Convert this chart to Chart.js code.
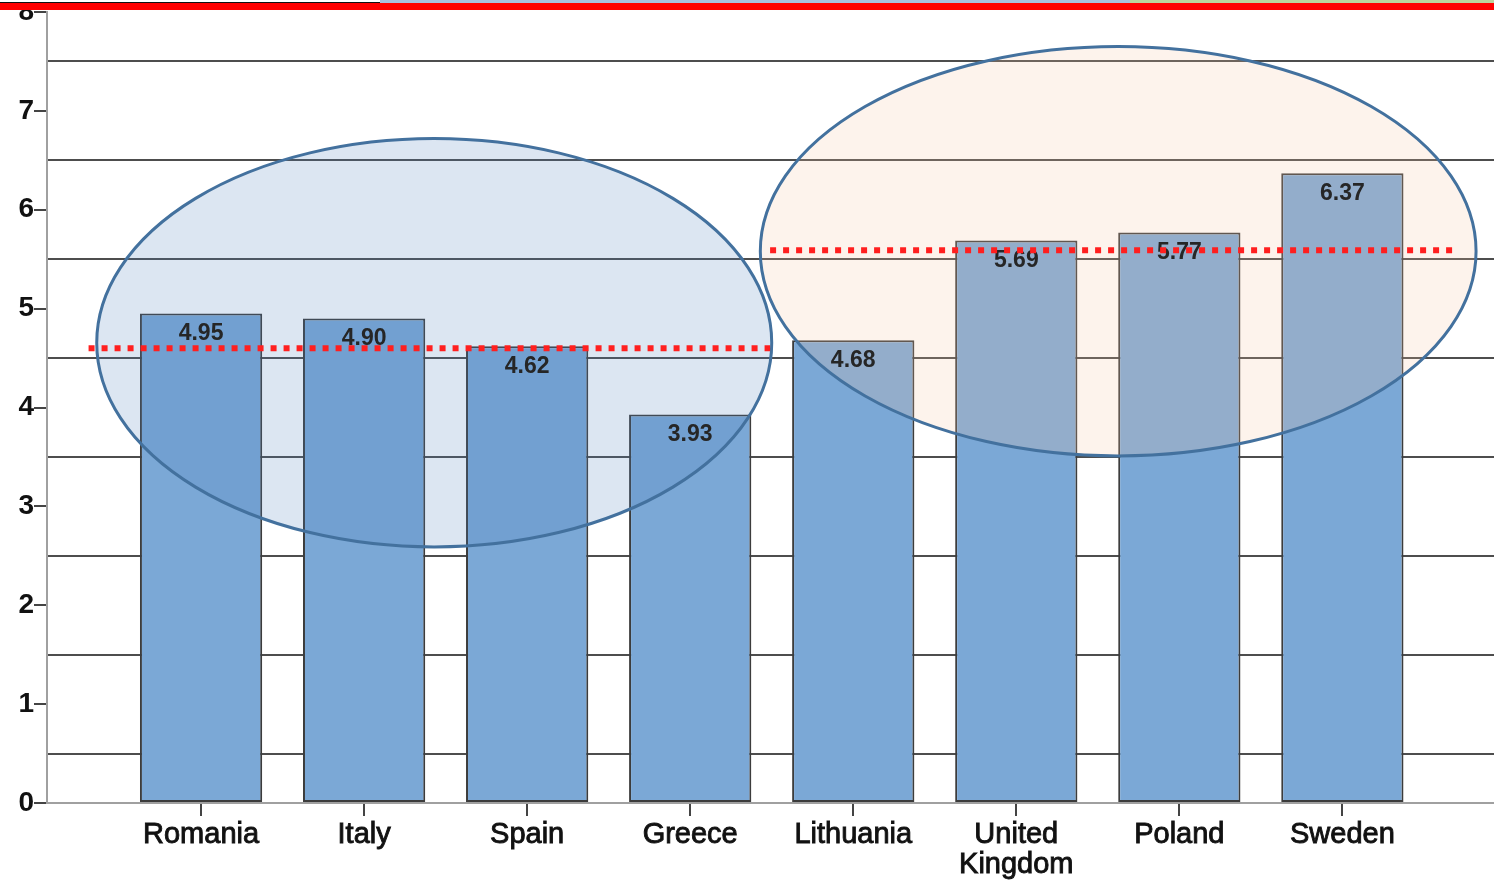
<!DOCTYPE html>
<html>
<head>
<meta charset="utf-8">
<script src="https://cdn.jsdelivr.net/npm/chart.js@4.4.1/dist/chart.umd.min.js"></script>
<style>
body{margin:0;background:#fff;overflow:hidden}
#wrap{position:relative;width:1494px;height:883px}
#strip{position:absolute;left:0;top:0;width:1494px;height:3px;z-index:2;
  background:linear-gradient(to right,#fff 0 380px,#a9c0df 380px 1130px,#bcd39c 1130px)}
#stripLine{position:absolute;left:0;top:2px;width:380px;height:1px;background:#111;z-index:3}
#redBand{position:absolute;left:0;top:3px;width:1494px;height:7px;background:#ff0000;z-index:2}
</style>
</head>
<body>
<div id="wrap">
  <div id="strip"></div>
  <div id="stripLine"></div>
  <div id="redBand"></div>
  <canvas id="chart" width="1494" height="883"></canvas>
</div>
<script>
var countries = ["Romania", "Italy", "Spain", "Greece", "Lithuania", "United Kingdom", "Poland", "Sweden"]
var scores = [4.95, 4.90, 4.62, 3.93, 4.68, 5.69, 5.77, 6.37]
var groupMeans = [4.60, 5.59]
var yTicks = [0, 1, 2, 3, 4, 5, 6, 7, 8]

// where each group's ellipse and mean line sit, in axis units
var groupShapes = [
    {x0: 0.36, x1: 4.50, y0: 2.59, y1: 6.72, line0: 0.31, line1: 4.49, fill: "rgba(80,130,190,0.2)"},
    {x0: 4.43, x1: 8.82, y0: 3.51, y1: 7.65, line0: 4.49, line1: 8.69, fill: "rgba(245,194,158,0.2)"}
]

var groupOverlay = {
    id: "groupOverlay",
    afterDatasetsDraw(chart) {
        var ctx = chart.ctx
        var sx = chart.scales.x
        var sy = chart.scales.y
        var meta = chart.getDatasetMeta(0)
        ctx.save()

        groupShapes.forEach(g => {
            var left = sx.getPixelForValue(g.x0)
            var right = sx.getPixelForValue(g.x1)
            var top = sy.getPixelForValue(g.y1)
            var bottom = sy.getPixelForValue(g.y0)
            ctx.beginPath()
            ctx.ellipse((left + right) / 2, (top + bottom) / 2, (right - left) / 2, (bottom - top) / 2, 0, 0, Math.PI * 2)
            ctx.fillStyle = g.fill
            ctx.fill()
            ctx.lineWidth = 3
            ctx.strokeStyle = "#43719e"
            ctx.stroke()
        })

        // values printed just under each bar top
        ctx.font = 'bold 23px "Liberation Sans", Arial, sans-serif'
        ctx.fillStyle = "#262626"
        ctx.textAlign = "center"
        ctx.textBaseline = "middle"
        meta.data.forEach((bar, i) => {
            ctx.fillText(scores[i].toFixed(2), bar.x, bar.y + 20)
        })

        ctx.setLineDash([6, 7])
        ctx.lineWidth = 6
        ctx.strokeStyle = "#ff1f1f"
        groupShapes.forEach((g, i) => {
            var yy = sy.getPixelForValue(groupMeans[i])
            ctx.beginPath()
            ctx.moveTo(sx.getPixelForValue(g.line0), yy)
            ctx.lineTo(sx.getPixelForValue(g.line1), yy)
            ctx.stroke()
        })
        ctx.restore()
    }
}

window.onload = function () {
    var ctx = document.getElementById("chart").getContext("2d")
    new Chart(ctx, {
        type: "bar",
        data: {
            datasets: [{
                data: scores.map((v, i) => ({x: i + 1, y: v})),
                backgroundColor: "#7ba8d6",
                borderColor: "#3c3c3c",
                borderWidth: 2,
                borderSkipped: false,
                categoryPercentage: 1,
                barPercentage: 0.75
            }]
        },
        options: {
            responsive: false,
            animation: false,
            layout: {padding: {top: 12, right: 0, left: 0, bottom: 0}},
            plugins: {legend: {display: false}, tooltip: {enabled: false}},
            scales: {
                x: {
                    type: "linear",
                    min: 0.055,
                    max: 8.93,
                    offset: false,
                    afterBuildTicks: s => { s.ticks = countries.map((c, i) => ({value: i + 1})) },
                    afterFit: s => { s.height = 80 },
                    border: {color: "#a0a0a0", width: 2},
                    grid: {drawOnChartArea: false, offset: false, tickLength: 13, tickColor: "#444", lineWidth: 2},
                    ticks: {
                        autoSkip: false,
                        maxRotation: 0,
                        padding: 4,
                        color: "#111",
                        textStrokeColor: "#111",
                        textStrokeWidth: 0.9,
                        font: {family: '"Liberation Sans", Arial, sans-serif', size: 29, lineHeight: 1.03},
                        callback: v => countries[v - 1].split(" ")
                    }
                },
                y: {
                    min: 0,
                    max: 8,
                    afterBuildTicks: s => {
                        var t = []
                        for (var v = 0; v <= 8; v += 0.5) t.push({value: v})
                        s.ticks = t
                    },
                    afterFit: s => { s.width = 47 },
                    border: {color: "#a0a0a0", width: 2},
                    grid: {
                        lineWidth: 2,
                        tickLength: 13,
                        color: c => (c.tick && c.tick.value % 1 != 0) ? "#4d4d4d" : "rgba(0,0,0,0)",
                        tickColor: c => (c.tick && c.tick.value % 1 == 0) ? "#444" : "rgba(0,0,0,0)"
                    },
                    ticks: {
                        padding: 0,
                        color: "#111",
                        font: {family: '"Liberation Sans", Arial, sans-serif', size: 28, weight: "bold", lineHeight: 0.85},
                        callback: v => yTicks.includes(v) ? v : ""
                    }
                }
            }
        },
        plugins: [groupOverlay]
    })
}
</script>
</body>
</html>
